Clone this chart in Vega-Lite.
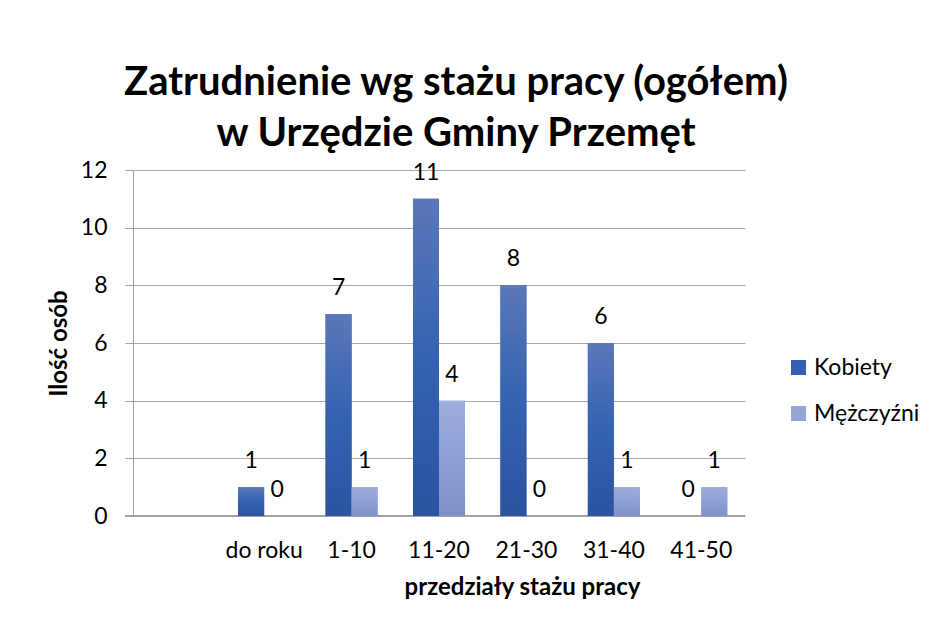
{
  "$schema": "https://vega.github.io/schema/vega-lite/v6.json",
  "width": 612,
  "height": 346,
  "autosize": {"type": "none"},
  "padding": {"left": 133, "top": 170, "right": 187, "bottom": 113},
  "background": "white",
  "config": {
    "font": "Lato",
    "view": {"stroke": null},
    "axis": {"labelFont": "Lato", "titleFont": "Lato"}
  },
  "title": {
    "text": ["Zatrudnienie wg stażu pracy (ogółem)", "w Urzędzie Gminy Przemęt"],
    "font": "Lato",
    "fontSize": 40,
    "fontWeight": "bold",
    "color": "#000000",
    "anchor": "middle",
    "frame": "group",
    "dx": 17,
    "lineHeight": 51,
    "offset": 5
  },
  "data": {
    "values": [
      {"cat": "do roku", "series": "Kobiety", "value": 1},
      {"cat": "do roku", "series": "Mężczyźni", "value": 0},
      {"cat": "1-10", "series": "Kobiety", "value": 7},
      {"cat": "1-10", "series": "Mężczyźni", "value": 1},
      {"cat": "11-20", "series": "Kobiety", "value": 11},
      {"cat": "11-20", "series": "Mężczyźni", "value": 4},
      {"cat": "21-30", "series": "Kobiety", "value": 8},
      {"cat": "21-30", "series": "Mężczyźni", "value": 0},
      {"cat": "31-40", "series": "Kobiety", "value": 6},
      {"cat": "31-40", "series": "Mężczyźni", "value": 1},
      {"cat": "41-50", "series": "Kobiety", "value": 0},
      {"cat": "41-50", "series": "Mężczyźni", "value": 1}
    ]
  },
  "encoding": {
    "x": {
      "field": "cat",
      "type": "nominal",
      "sort": null,
      "scale": {
        "domain": [" ", "do roku", "1-10", "11-20", "21-30", "31-40", "41-50"],
        "paddingInner": 0.405,
        "paddingOuter": 0.2025
      },
      "axis": {
        "title": "przedziały stażu pracy",
        "titleFontSize": 24,
        "titleFontWeight": "bold",
        "titleColor": "#000000",
        "titleX": 389,
        "titleY": 78,
        "titleBaseline": "alphabetic",
        "labelAngle": 0,
        "labelFontSize": 23,
        "labelColor": "#000000",
        "labelPadding": 23,
        "ticks": false,
        "domain": false,
        "grid": false
      }
    },
    "xOffset": {
      "field": "series",
      "type": "nominal",
      "scale": {"domain": ["Kobiety", "Mężczyźni"], "paddingInner": 0, "paddingOuter": 0}
    },
    "y": {
      "field": "value",
      "type": "quantitative",
      "scale": {"domain": [0, 12], "nice": false},
      "axis": {
        "values": [0, 2, 4, 6, 8, 10, 12],
        "title": "Ilość osób",
        "titleFontSize": 24,
        "titleFontWeight": "bold",
        "titleColor": "#000000",
        "titlePadding": 9,
        "labelFontSize": 23,
        "labelColor": "#000000",
        "labelPadding": 18,
        "tickSize": 8,
        "tickColor": "#A0A0A0",
        "domainColor": "#A0A0A0",
        "gridColor": "#A6A6A6",
        "grid": true
      }
    }
  },
  "layer": [
    {
      "mark": {"type": "rule", "color": "#A0A0A0"},
      "encoding": {"y": {"datum": 0}, "x": {"value": -8}, "x2": {"value": 612}, "xOffset": null}
    },
    {
      "mark": {"type": "bar"},
      "encoding": {
        "color": {
          "field": "series",
          "type": "nominal",
          "scale": {"domain": ["Kobiety", "Mężczyźni"], "range": ["#3560B0", "#94A6D8"]},
          "legend": {
            "title": null,
            "orient": "none",
            "legendX": 654,
            "legendY": 186,
            "symbolType": "square",
            "symbolSize": 225,
            "symbolStrokeWidth": 0,
            "labelFontSize": 23,
            "labelFont": "Lato",
            "labelColor": "#000000",
            "labelOffset": 4,
            "rowPadding": 22
          }
        }
      }
    },
    {
      "transform": [{"filter": "datum.series === 'Kobiety'"}],
      "mark": {
        "type": "bar",
        "color": {
          "gradient": "linear",
          "x1": 0, "y1": 0, "x2": 0, "y2": 1,
          "stops": [
            {"offset": 0, "color": "#5B78B9"},
            {"offset": 0.5, "color": "#3562B2"},
            {"offset": 1, "color": "#2B54A2"}
          ]
        }
      }
    },
    {
      "transform": [{"filter": "datum.series === 'Mężczyźni'"}],
      "mark": {
        "type": "bar",
        "color": {
          "gradient": "linear",
          "x1": 0, "y1": 0, "x2": 0, "y2": 1,
          "stops": [
            {"offset": 0, "color": "#9EADDA"},
            {"offset": 0.5, "color": "#8DA0D6"},
            {"offset": 1, "color": "#7E91C6"}
          ]
        }
      }
    },
    {
      "mark": {"type": "text", "fontSize": 23, "font": "Lato", "color": "#000000", "baseline": "alphabetic", "dy": -19},
      "encoding": {"text": {"field": "value", "type": "quantitative"}}
    }
  ]
}
